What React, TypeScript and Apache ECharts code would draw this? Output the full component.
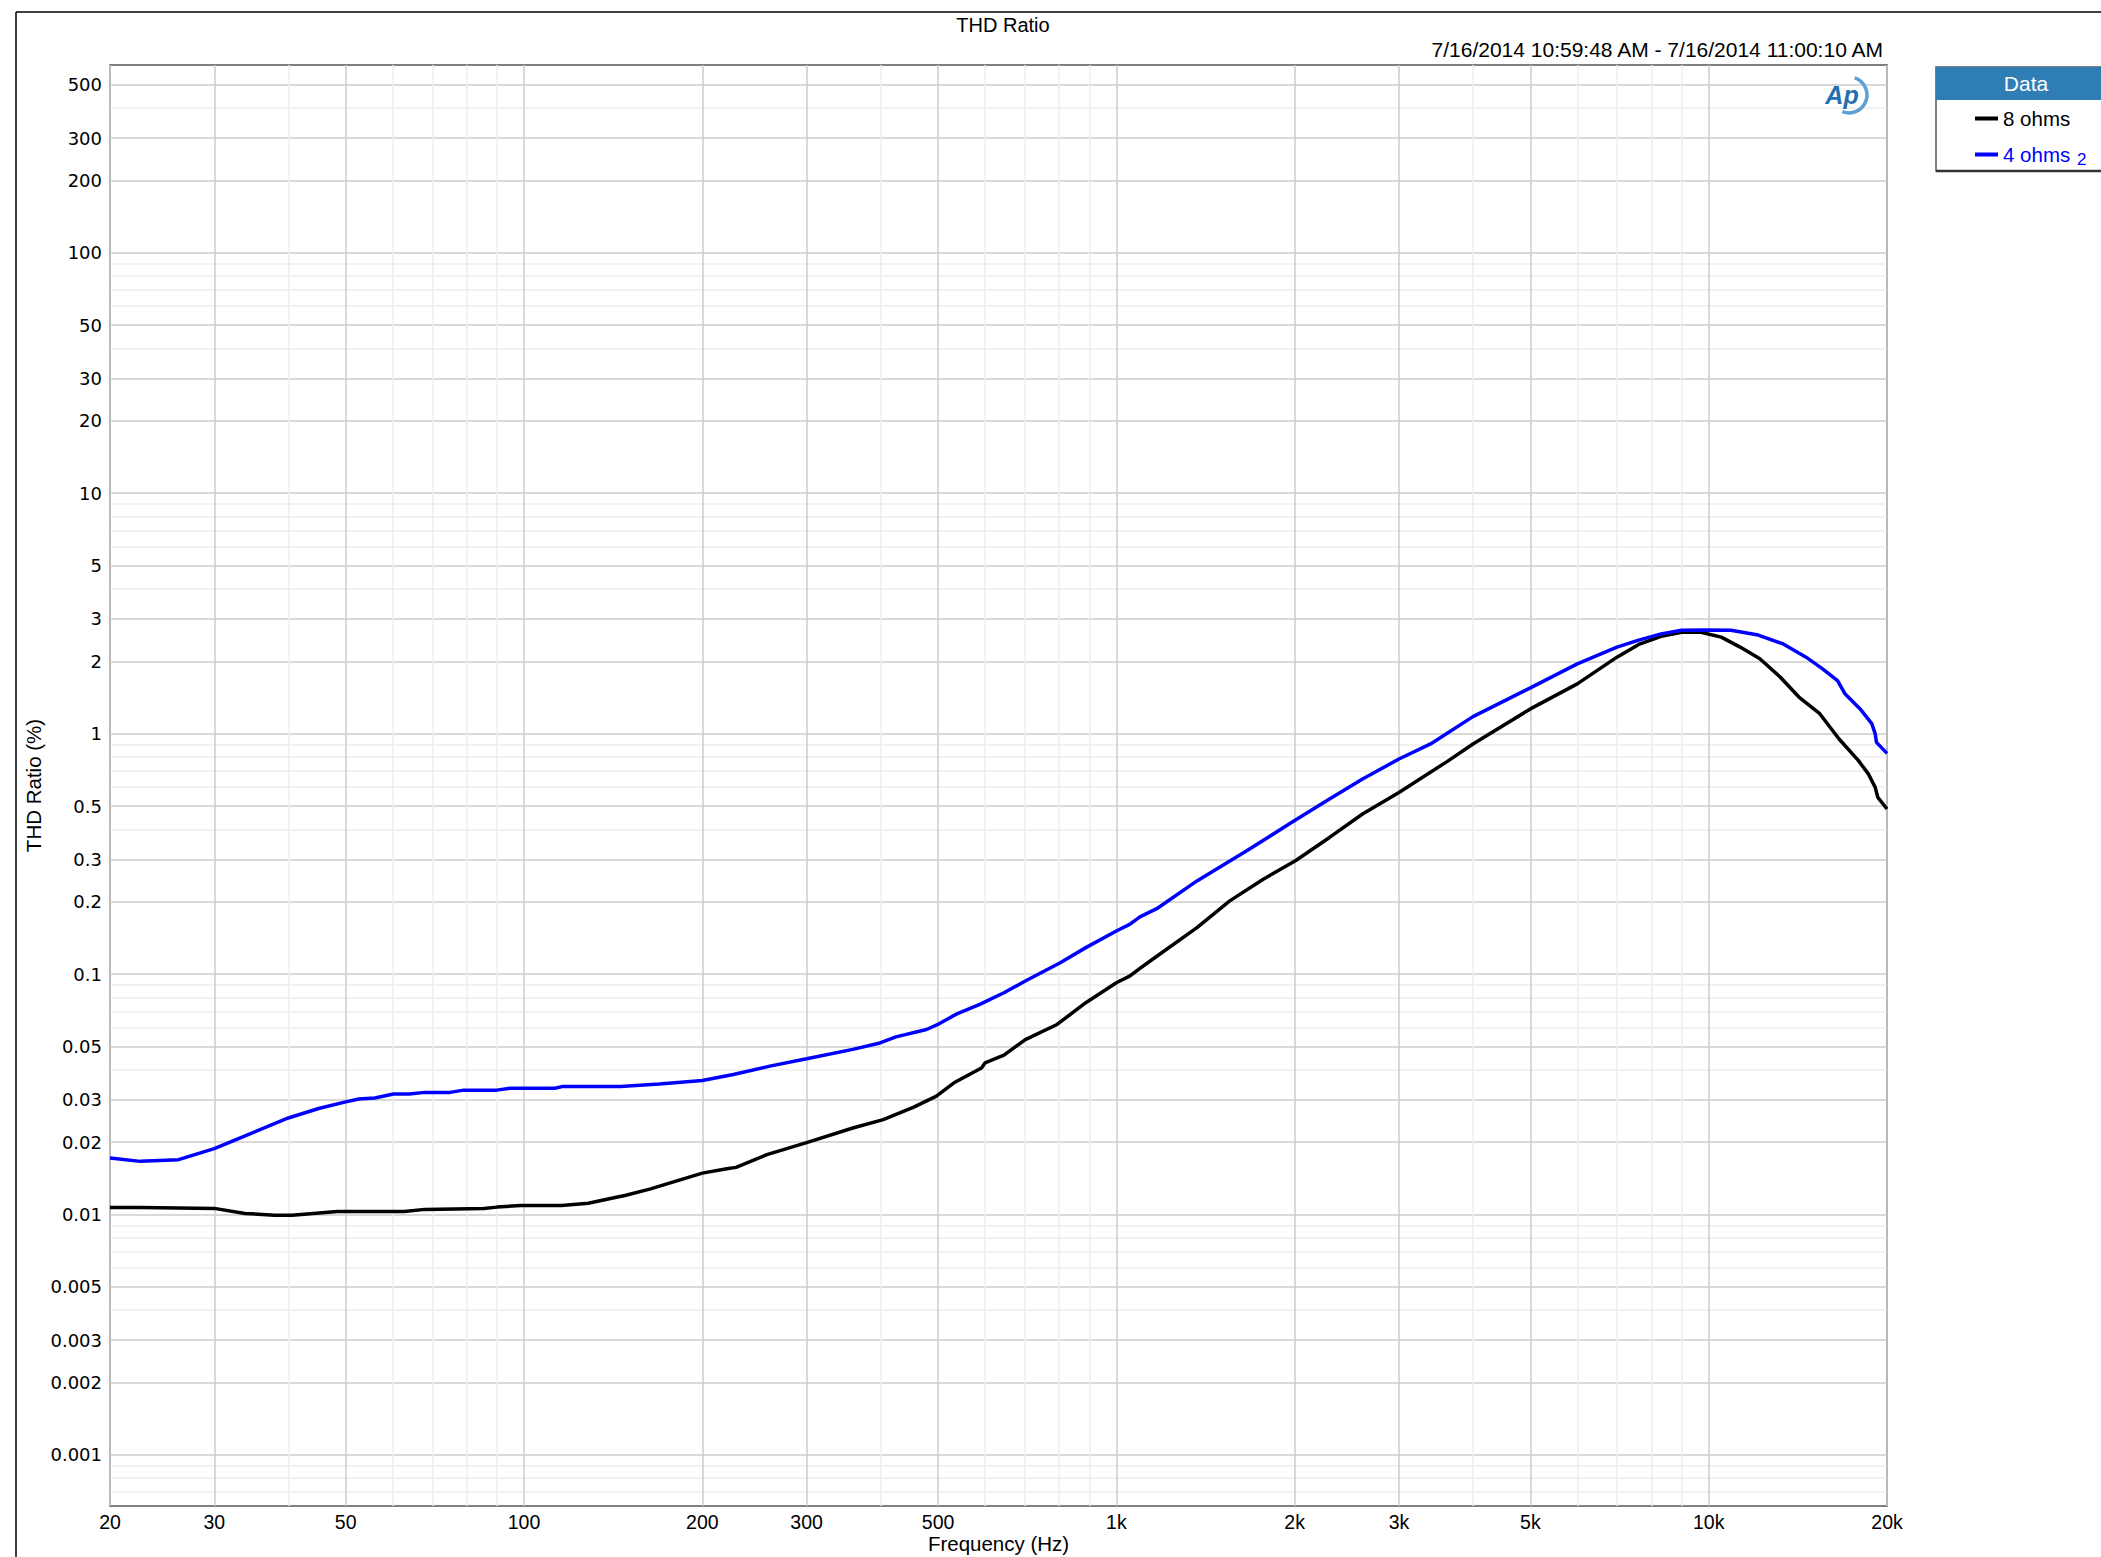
import React, { useEffect, useRef } from "react";
import * as echarts from "echarts";

// ---- data (frequency in Hz, THD ratio in %) ----
const freq8 = [20, 22.5, 30, 33.8, 37.9, 40.6, 48.4, 62.8, 68, 85.6, 90, 98.7, 115.8, 128.4, 141.2, 148, 163, 200, 220, 228, 257, 300, 359, 404, 454, 496, 532, 592, 600, 646, 702, 794, 888, 1000, 1053, 1096, 1139, 1368, 1554, 1770, 2006, 2290, 2604, 3000, 3616, 4000, 5000, 6000, 7000, 7620, 8312, 9000, 9700, 10500, 11300, 12200, 13200, 14200, 15400, 16600, 17900, 18600, 19100, 19300, 20000];
const thd8 = [0.0107, 0.0107, 0.0106, 0.0101, 0.00993, 0.00993, 0.0103, 0.0103, 0.0105, 0.0106, 0.01073, 0.0109, 0.0109, 0.01114, 0.0117, 0.012, 0.01275, 0.01486, 0.0155, 0.0157, 0.01774, 0.0199, 0.0229, 0.0248, 0.0279, 0.031, 0.0353, 0.0407, 0.0427, 0.046, 0.0534, 0.0617, 0.076, 0.092, 0.098, 0.1056, 0.113, 0.156, 0.2015, 0.248, 0.296, 0.37, 0.463, 0.569, 0.765, 0.906, 1.267, 1.61, 2.08, 2.35, 2.54, 2.64, 2.64, 2.52, 2.29, 2.05, 1.72, 1.42, 1.21, 0.95, 0.772, 0.68, 0.598, 0.543, 0.486];

const freq4 = [20, 22.5, 26.1, 30, 34.7, 40, 45, 50, 52.6, 56, 60.2, 64, 68, 75, 79.1, 89.9, 94.9, 112.7, 116.4, 145.4, 169.2, 200, 225.6, 260, 300, 359, 399, 424.6, 478, 502, 538, 588, 646, 702, 804, 888, 1000, 1053, 1096, 1170, 1368, 1660, 2006, 2290, 2604, 3000, 3392, 4000, 5000, 6000, 7000, 7620, 8312, 9000, 9850, 10900, 12060, 13360, 14600, 15570, 16500, 17000, 18000, 18850, 19100, 19200, 20000];
const thd4 = [0.01717, 0.01663, 0.0169, 0.0188, 0.0218, 0.0252, 0.0276, 0.0294, 0.0302, 0.0305, 0.0317, 0.0317, 0.0322, 0.0322, 0.0329, 0.0329, 0.0335, 0.0335, 0.0341, 0.0341, 0.0349, 0.0361, 0.0382, 0.0414, 0.0444, 0.0486, 0.0517, 0.0548, 0.0588, 0.0621, 0.0683, 0.0748, 0.0836, 0.0935, 0.1115, 0.1288, 0.151, 0.161, 0.173, 0.187, 0.244, 0.3256, 0.437, 0.535, 0.648, 0.784, 0.906, 1.177, 1.55, 1.95, 2.29, 2.45, 2.6, 2.69, 2.7, 2.69, 2.58, 2.36, 2.08, 1.86, 1.66, 1.46, 1.27, 1.1, 1.0, 0.92, 0.828];

const seriesNames = ["8 ohms", "4 ohms"];
const xTickLabels = [20, 30, 50, 100, 200, 300, 500, 1000, 2000, 3000, 5000, 10000, 20000];
const xMinorTicks = [40, 60, 70, 80, 90, 400, 600, 700, 800, 900, 4000, 6000, 7000, 8000, 9000];
const yTickLabels = [500, 300, 200, 100, 50, 30, 20, 10, 5, 3, 2, 1, 0.5, 0.3, 0.2, 0.1, 0.05, 0.03, 0.02, 0.01, 0.005, 0.003, 0.002, 0.001];
const yMinorTicks = [400, 90, 80, 70, 60, 40, 9, 8, 7, 6, 4, 0.9, 0.8, 0.7, 0.6, 0.4, 0.09, 0.08, 0.07, 0.06, 0.04, 0.009, 0.008, 0.007, 0.006, 0.004, 0.0009, 0.0008, 0.0007];
const xRange = [20, 20000];
const yRange = [0.000613, 604];

const L = (v: number) => Math.log10(v);

const ARIAL = "'Liberation Sans', Arial, sans-serif";
const DEJAVU = "'DejaVu Sans', Verdana, sans-serif";

function fmtX(v: number) {
  const f = Math.round(Math.pow(10, v));
  return f >= 1000 ? f / 1000 + "k" : String(f);
}
function fmtY(v: number) {
  const t = Math.pow(10, v);
  return String(parseFloat(t.toPrecision(3)));
}

export default function App() {
  const ref = useRef<HTMLDivElement>(null);
  useEffect(() => {
    if (!ref.current) return;
    const chart = echarts.init(ref.current, null, { renderer: "svg" });
    const xMin = L(xRange[0]);
    const xMax = L(xRange[1]);
    const yMin = L(yRange[0]);
    const yMax = L(yRange[1]);
    const hidden = {
      axisLine: { show: false },
      axisTick: { show: false },
      axisLabel: { show: false },
    };
    const option: any = {
      animation: false,
      backgroundColor: "#ffffff",
      title: {
        text: "THD Ratio",
        left: 998,
        top: 10,
        textAlign: "center",
        textStyle: { fontFamily: ARIAL, fontSize: 20, fontWeight: "normal", color: "#000" },
      },
      grid: {
        left: 110,
        top: 65,
        width: 1777,
        height: 1441,
        show: true,
        borderColor: "#808080",
        borderWidth: 2,
        backgroundColor: "transparent",
        containLabel: false,
        outerBoundsMode: "none",
      },
      xAxis: [
        {
          type: "value",
          min: xMin,
          max: xMax,
          position: "bottom",
          name: "Frequency (Hz)",
          nameLocation: "middle",
          nameGap: 27,
          nameMoveOverlap: false,
          nameTextStyle: { fontFamily: ARIAL, fontSize: 20.5, lineHeight: 20, color: "#000" },
          axisLine: { show: false },
          axisTick: { show: false, customValues: xTickLabels.map(L) },
          axisLabel: {
            customValues: xTickLabels.map(L),
            formatter: fmtX,
            fontFamily: ARIAL,
            fontSize: 19.5,
            lineHeight: 19,
            color: "#000",
            margin: 6,
          },
          splitLine: { show: true, lineStyle: { color: "#cdcdcd", width: 1.5 } },
        },
        {
          type: "value",
          min: xMin,
          max: xMax,
          position: "bottom",
          ...hidden,
          axisTick: { show: false, customValues: xMinorTicks.map(L) },
          splitLine: { show: true, lineStyle: { color: "#ececec", width: 1.5 } },
        },
      ],
      yAxis: [
        {
          type: "value",
          min: yMin,
          max: yMax,
          position: "left",
          name: "THD Ratio (%)",
          nameLocation: "middle",
          nameGap: 66,
          nameMoveOverlap: false,
          nameTextStyle: { fontFamily: ARIAL, fontSize: 20.5, color: "#000" },
          axisLine: { show: false },
          axisTick: { show: false, customValues: yTickLabels.map(L) },
          axisLabel: {
            customValues: yTickLabels.map(L),
            formatter: fmtY,
            fontFamily: DEJAVU,
            fontSize: 18,
            color: "#000",
            margin: 8,
          },
          splitLine: { show: true, lineStyle: { color: "#cdcdcd", width: 1.5 } },
        },
        {
          type: "value",
          min: yMin,
          max: yMax,
          position: "left",
          ...hidden,
          axisTick: { show: false, customValues: yMinorTicks.map(L) },
          splitLine: { show: true, lineStyle: { color: "#ececec", width: 1.5 } },
        },
      ],
      legend: {
        orient: "vertical",
        left: 1970,
        top: 103,
        itemWidth: 23,
        itemHeight: 4,
        itemGap: 15,
        icon: "rect",
        selectedMode: false,
        data: [
          { name: seriesNames[0], textStyle: { color: "#000000" } },
          { name: seriesNames[1], textStyle: { color: "#0000ff" } },
        ],
        textStyle: { fontFamily: ARIAL, fontSize: 20.5, lineHeight: 20 },
        z: 10,
      },
      graphic: [
        { type: "line", shape: { x1: 16, y1: 12, x2: 2101, y2: 12 }, style: { stroke: "#000", lineWidth: 1.5 }, z: 1 },
        { type: "line", shape: { x1: 16, y1: 12, x2: 16, y2: 1557 }, style: { stroke: "#000", lineWidth: 1.5 }, z: 1 },
        {
          type: "text",
          x: 1883,
          y: 49,
          style: {
            text: "7/16/2014 10:59:48 AM - 7/16/2014 11:00:10 AM",
            font: "21px " + ARIAL,
            fill: "#000",
            align: "right",
            verticalAlign: "middle",
          },
          z: 1,
        },
        // legend box
        { type: "rect", shape: { x: 1936, y: 67, width: 200, height: 104 }, style: { fill: "#fff", stroke: "#555", lineWidth: 1.5 }, z: 1 },
        { type: "line", shape: { x1: 1936, y1: 171, x2: 2101, y2: 171 }, style: { stroke: "#333", lineWidth: 2.5 }, z: 2 },
        { type: "rect", shape: { x: 1936, y: 67, width: 200, height: 33 }, style: { fill: "#2e7db4" }, z: 2 },
        {
          type: "text",
          x: 2026,
          y: 83,
          style: { text: "Data", font: "21px " + ARIAL, fill: "#fff", align: "center", verticalAlign: "middle" },
          z: 3,
        },
        {
          type: "text",
          x: 2077,
          y: 159,
          style: { text: "2", font: "17px " + ARIAL, fill: "#0000ff", align: "left", verticalAlign: "middle" },
          z: 11,
        },
        // logo
        {
          type: "arc",
          shape: { cx: 1849, cy: 95, r: 18, startAngle: -1.25, endAngle: 1.95 },
          style: { stroke: "#5fa0d4", lineWidth: 3.5, fill: null },
          z: 3,
        },
        {
          type: "text",
          x: 1842,
          y: 95,
          style: {
            text: "Ap",
            font: "italic bold 25px " + ARIAL,
            fill: "#1f6fb2",
            align: "center",
            verticalAlign: "middle",
          },
          z: 4,
        },
      ],
      series: [
        {
          name: seriesNames[0],
          type: "line",
          showSymbol: false,
          symbol: "none",
          color: "#000000",
          lineStyle: { color: "#000000", width: 3.5 },
          data: freq8.map((f, i) => [L(f), L(thd8[i])]),
          z: 3,
        },
        {
          name: seriesNames[1],
          type: "line",
          showSymbol: false,
          symbol: "none",
          color: "#0000ff",
          lineStyle: { color: "#0000ff", width: 3.5 },
          data: freq4.map((f, i) => [L(f), L(thd4[i])]),
          z: 4,
        },
      ],
    };
    chart.setOption(option);
    return () => chart.dispose();
  }, []);
  return (
    <div
      ref={ref}
      style={{ position: "fixed", left: 0, top: 0, width: 2101, height: 1557, background: "#fff" }}
    />
  );
}
